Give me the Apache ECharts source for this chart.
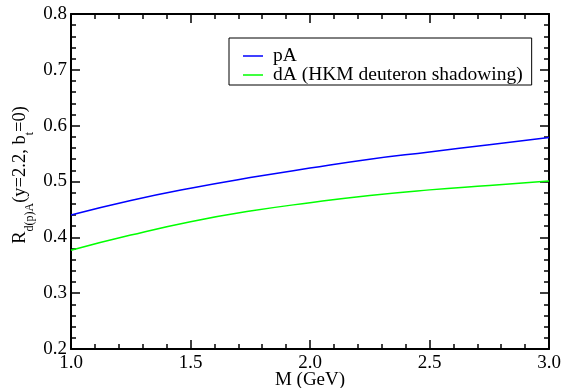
<!DOCTYPE html>
<html><head><meta charset="utf-8">
<script src="https://cdn.jsdelivr.net/npm/echarts@6/dist/echarts.min.js"></script>
<style>html,body{margin:0;padding:0;background:#fff}#c{width:564px;height:388px}</style>
</head><body><div id="c"></div>
<script>
const massGeV = [1.0, 1.25, 1.5, 1.75, 2.0, 2.25, 2.5, 2.75, 3.0];
const pA = [0.440, 0.466, 0.488, 0.507, 0.524, 0.540, 0.553, 0.566, 0.579];
const dA = [0.377, 0.404, 0.428, 0.447, 0.462, 0.475, 0.485, 0.493, 0.501];
const seriesNames = ['pA', 'dA (HKM deuteron shadowing)'];

const FONT = 'Liberation Serif';
const FS = 19;
const chart = echarts.init(document.getElementById('c'));
const axisCommon = {
  axisLine: {show: true, onZero: false, lineStyle: {color: '#000', width: 2}},
  axisTick: {show: true, inside: true, length: 9, lineStyle: {color: '#000', width: 1.5}},
  minorTick: {show: true, splitNumber: 5, length: 5, lineStyle: {color: '#000', width: 1.5}},
  splitLine: {show: false}
};
chart.setOption({
  animation: false,
  textStyle: {fontFamily: FONT},
  grid: {left: 71, right: 15, top: 14, bottom: 39, containLabel: false, outerBoundsMode: 'none'},
  legend: {
    orient: 'vertical', left: 229, top: 38,
    data: seriesNames,
    icon: 'rect', itemWidth: 20, itemHeight: 1.5, itemGap: -1,
    padding: [8, 9, 0, 14],
    borderColor: '#000', borderWidth: 1, backgroundColor: '#fff',
    textStyle: {fontFamily: FONT, fontSize: 19.5, color: '#000', padding: [0, 0, 0, 5]}
  },
  xAxis: [
    Object.assign({type: 'value', position: 'bottom', min: 1, max: 3, interval: 0.5,
      name: 'M (GeV)', nameLocation: 'middle', nameGap: 22, nameMoveOverlap: false,
      nameTextStyle: {fontFamily: FONT, fontSize: FS, color: '#000'},
      axisLabel: {color: '#000', fontFamily: FONT, fontSize: FS, margin: 5,
        formatter: v => v.toFixed(1)}}, axisCommon),
    Object.assign({type: 'value', position: 'top', min: 1, max: 3, interval: 0.5,
      axisLabel: {show: false}}, axisCommon)
  ],
  yAxis: [
    Object.assign({type: 'value', position: 'left', min: 0.2, max: 0.8, interval: 0.1,
      axisLabel: {color: '#000', fontFamily: FONT, fontSize: FS, margin: 4,
        formatter: v => v.toFixed(1)}}, axisCommon),
    Object.assign({type: 'value', position: 'right', min: 0.2, max: 0.8, interval: 0.1,
      axisLabel: {show: false}}, axisCommon)
  ],
  graphic: [{
    type: 'text', rotation: Math.PI / 2,
    x: 23, y: 175,
    style: {
      text: '{m|R}{s|d(p)A}{m|(y=2.2, b}{s|t}{m|=0)}',
      fontFamily: FONT, fontSize: 18.5, align: 'center', verticalAlign: 'middle',
      rich: {
        m: {fontFamily: FONT, fontSize: 18.5, color: '#000', verticalAlign: 'bottom', padding: [0, 0, 6, 0]},
        s: {fontFamily: FONT, fontSize: 12, color: '#000', verticalAlign: 'bottom'}
      }
    }
  }],
  series: [
    {name: seriesNames[0], type: 'line', smooth: true, symbol: 'none',
     lineStyle: {color: '#0000ff', width: 1.5}, itemStyle: {color: '#0000ff'},
     data: massGeV.map((m, i) => [m, pA[i]])},
    {name: seriesNames[1], type: 'line', smooth: true, symbol: 'none',
     lineStyle: {color: '#00ff00', width: 1.5}, itemStyle: {color: '#00ff00'},
     data: massGeV.map((m, i) => [m, dA[i]])}
  ]
});
</script></body></html>
